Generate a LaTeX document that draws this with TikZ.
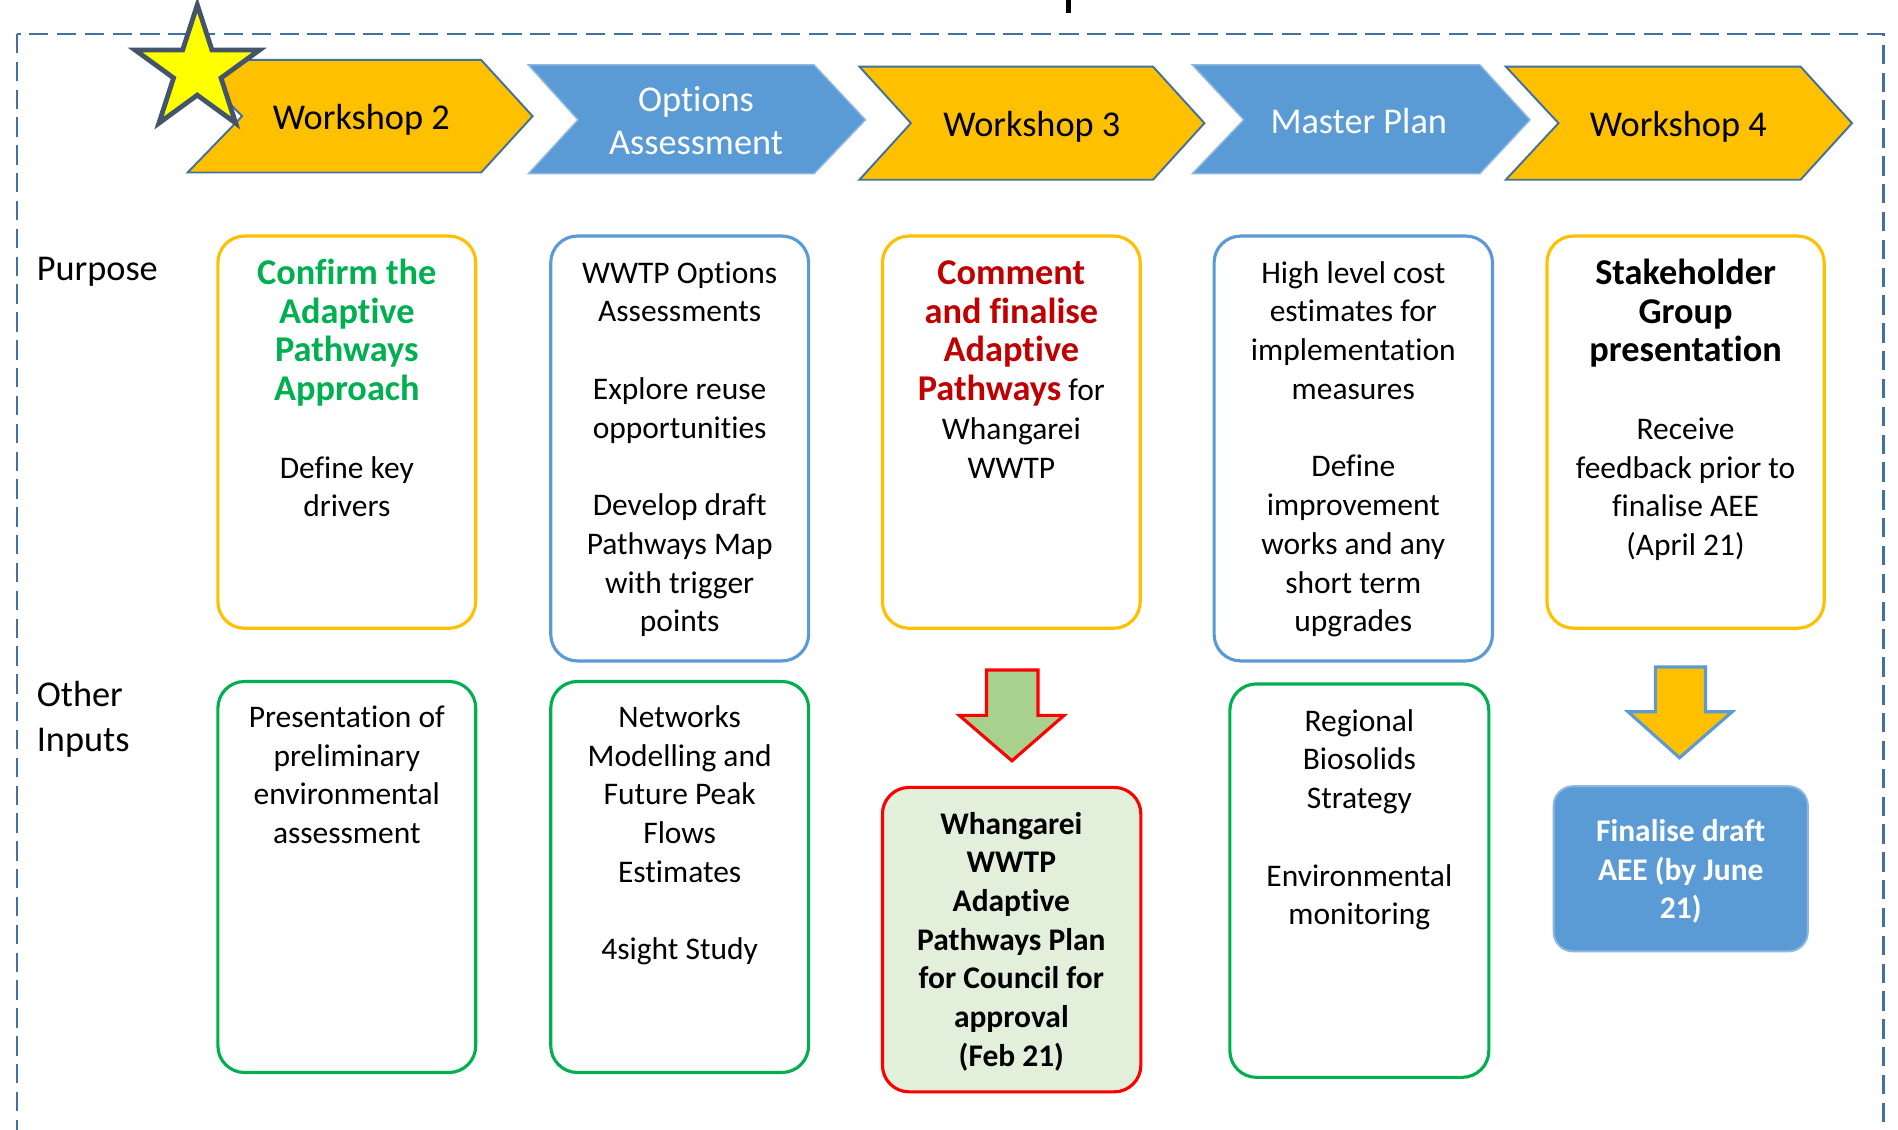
\documentclass[tikz,border=0pt]{standalone}
\usepackage{fontspec}
\setmainfont{Carlito}[Ligatures=NoCommon]
\usetikzlibrary{fit}
\definecolor{cOrange}{HTML}{FFC000}
\definecolor{cBlue}{HTML}{5B9BD5}
\definecolor{cOutline}{HTML}{41719C}
\definecolor{cGreen}{HTML}{00B050}
\definecolor{cDarkRed}{HTML}{C00000}
\definecolor{cRed}{HTML}{FF0000}
\definecolor{cPaleGreen}{HTML}{E2EFDA}
\definecolor{cArrowGreen}{HTML}{A9D18E}
\definecolor{cStar}{HTML}{FFFF00}
\definecolor{cSlate}{HTML}{44546A}
\definecolor{cFrame}{HTML}{41719C}
\definecolor{cLightBlue}{HTML}{8DB8E2}
\newcommand{\headfont}{\fontsize{15}{16}\selectfont\bfseries}
\tikzset{
  chevO/.style={fill=cOrange, draw=cOutline, line width=0.8pt, line join=miter},
  chevB/.style={fill=cBlue, draw=cLightBlue, line width=0.6pt, line join=miter},
  pbox/.style={inner sep=0pt, rounded corners=11pt, line width=1.3pt},
  body/.style={inner sep=0pt, anchor=base, font=\fontsize{13}{16}\selectfont},
  chevtxt/.style={inner sep=0pt, anchor=base, font=\fontsize{15}{18}\selectfont},
  lbl/.style={inner sep=0pt, anchor=base west, font=\fontsize{15}{18.5}\selectfont},
  blockarrow/.style={line width=1.3pt, line join=miter},
}
\begin{document}
\begin{tikzpicture}[x=0.5pt, y=-0.5pt]
\useasboundingbox (0,0) rectangle (1568,933);
\clip (0,0) rectangle (1568,933);
\fill[white] (0,0) rectangle (1568,933);

% fragment of cut-off title
\draw[line width=2pt] (883,0) -- (883,10.5);

% dashed frame
\draw[cFrame, line width=1pt, dash pattern=on 8pt off 3.5pt] (14,28) rectangle (1556,960);

% chevrons
\draw[chevO] (155,49.5) -- (397.5,49.5) -- (440,96) -- (397.5,142.5) -- (155,142.5) -- (200,96) -- cycle;
\draw[chevB] (436.5,53.6) -- (672.5,53.6) -- (715,99) -- (672.5,143.5) -- (436.5,143.5) -- (477.5,99) -- cycle;
\draw[chevO] (710,55) -- (952.5,55) -- (995,101.75) -- (952.5,148.5) -- (710,148.5) -- (752.5,101.75) -- cycle;
\draw[chevB] (985,53.6) -- (1222.5,53.6) -- (1264,99) -- (1222.5,143.5) -- (985,143.5) -- (1027.5,99) -- cycle;
\draw[chevO] (1244,55) -- (1487.5,55) -- (1530,101.75) -- (1487.5,148.5) -- (1244,148.5) -- (1287.5,101.75) -- cycle;

% star
\draw[fill=cStar, draw=cSlate, line width=2pt, line join=miter]
  (163,4) -- (175.1,41.3) -- (214.4,41.3) -- (182.6,64.4) -- (194.7,101.7) -- (163,78.6)
  -- (131.3,101.7) -- (143.4,64.4) -- (111.6,41.3) -- (150.9,41.3) -- cycle;

% chevron texts
\node[chevtxt] (c1) at (298.5,107) {Workshop 2};
\node[chevtxt, text=white] (c2) at (575,92) {\parbox[t]{120pt}{\centering Options\\Assessment}};
\node[chevtxt] (c3) at (852.5,113) {Workshop 3};
\node[chevtxt, text=white] (c4) at (1122.5,110) {Master Plan};
\node[chevtxt] (c5) at (1386.5,113) {Workshop 4};

% row labels
\node[lbl] (purpose) at (30,232) {Purpose};
\node[lbl] (other) at (30,584) {\parbox[t]{80pt}{\raggedright Other\\Inputs}};

% purpose boxes
\node[pbox, draw=cOrange, fit={(180,195) (393,519)}] (p1) {};
\node[pbox, draw=cBlue, fit={(455,195) (668,546)}] (p2) {};
\node[pbox, draw=cOrange, fit={(729,195) (942,519)}] (p3) {};
\node[pbox, draw=cBlue, fit={(1003,195) (1233,546)}] (p4) {};
\node[pbox, draw=cOrange, fit={(1278,195) (1507,519)}] (p5) {};

\node[body] (p1t) at (286.5,235) {\parbox[t]{150pt}{\centering\leavevmode
  {\color{cGreen}\headfont Confirm the\\Adaptive\\Pathways\\Approach}\\[16pt]Define key\\drivers}};
\node[body] (p2t) at (561.5,234) {\parbox[t]{150pt}{\centering
  WWTP Options\\Assessments\\[16pt]Explore reuse\\opportunities\\[16pt]Develop draft\\Pathways Map\\with trigger\\points}};
\node[body] (p3t) at (835.5,235) {\parbox[t]{150pt}{\centering\leavevmode
  {\color{cDarkRed}\headfont Comment\\and finalise\\Adaptive\\Pathways} for\\Whangarei\\WWTP}};
\node[body] (p4t) at (1118,234) {\parbox[t]{150pt}{\centering
  High level cost\\estimates for\\implementation\\measures\\[16pt]Define\\improvement\\works and any\\short term\\upgrades}};
\node[body] (p5t) at (1392.5,235) {\parbox[t]{150pt}{\centering\leavevmode
  {\headfont Stakeholder\\Group\\presentation}\\[16pt]Receive\\feedback prior to\\finalise AEE\\(April 21)}};

% other inputs boxes
\node[pbox, draw=cGreen, fit={(180,563) (393,886)}] (o1) {};
\node[pbox, draw=cGreen, fit={(455,563) (668,886)}] (o2) {};
\node[pbox, draw=cRed, fill=cPaleGreen, fit={(729,650.5) (942.5,902)}] (o3) {};
\node[pbox, draw=cGreen, fit={(1016,565) (1230,890)}] (o4) {};
\node[pbox, draw=cLightBlue, fill=cBlue, line width=0.8pt, rounded corners=8pt, fit={(1283.5,649.5) (1493.5,786)}] (o5) {};

\node[body] (o1t) at (286.5,601) {\parbox[t]{150pt}{\centering
  Presentation of\\preliminary\\environmental\\assessment}};
\node[body] (o2t) at (561.5,601) {\parbox[t]{150pt}{\centering
  Networks\\Modelling and\\Future Peak\\Flows\\Estimates\\[16pt]4sight Study}};
\node[body] (o3t) at (835.5,689) {\parbox[t]{150pt}{\centering\bfseries
  Whangarei\\WWTP\\Adaptive\\Pathways Plan\\for Council for\\approval\\(Feb 21)}};
\node[body] (o4t) at (1123,604) {\parbox[t]{150pt}{\centering
  Regional\\Biosolids\\Strategy\\[16pt]Environmental\\monitoring}};
\node[body, text=white] (o5t) at (1388.5,695) {\parbox[t]{150pt}{\centering\bfseries
  Finalise draft\\AEE (by June\\21)}};

% block arrows
\draw[blockarrow, fill=cArrowGreen, draw=cRed]
  (815,553.5) -- (857.5,553.5) -- (857.5,591) -- (879,591) -- (836,628.5) -- (792.5,591) -- (815,591) -- cycle;
\draw[blockarrow, fill=cOrange, draw=cBlue]
  (1367.5,551) -- (1409,551) -- (1409,588) -- (1431,588) -- (1387.5,626) -- (1345,588) -- (1367.5,588) -- cycle;
\end{tikzpicture}
\end{document}
